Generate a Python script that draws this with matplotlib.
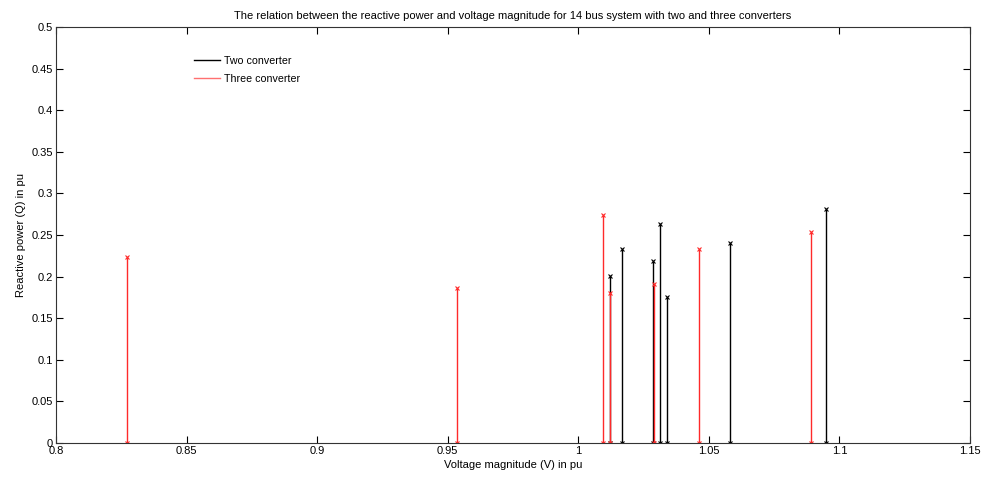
import numpy as np
import matplotlib.pyplot as plt
from matplotlib.lines import Line2D

plt.rcParams['font.family'] = ['Liberation Sans', 'DejaVu Sans']

# voltage magnitude (pu) and reactive power (pu)
v_two = [1.0121, 1.0167, 1.0285, 1.0312, 1.0341, 1.0582, 1.0949]
q_two = [0.201, 0.2335, 0.219, 0.2636, 0.176, 0.240, 0.281]

v_three = [0.8273, 0.9537, 1.0094, 1.0121, 1.0289, 1.0464, 1.0891]
q_three = [0.224, 0.186, 0.274, 0.180, 0.191, 0.233, 0.254]

fig = plt.figure(figsize=(9.86, 4.78), dpi=100)
ax = fig.add_axes([0.0568, 0.0732, 0.927, 0.8703])

for v, q in zip(v_two, q_two):
    ax.plot([v, v], [0, q], '-x', color='black', lw=1.0, ms=3.2, mew=0.8)
for v, q in zip(v_three, q_three):
    ax.plot([v, v], [0, q], '-x', color='#ff2a2a', lw=1.0, ms=3.2, mew=0.8)

ax.set_xlim(0.8, 1.15)
ax.set_ylim(0, 0.5)
ax.set_xticks(np.arange(0.8, 1.1501, 0.05))
ax.set_xticklabels(['0.8', '0.85', '0.9', '0.95', '1', '1.05', '1.1', '1.15'])
ax.set_yticks(np.arange(0, 0.5001, 0.05))
ax.set_yticklabels(['0', '0.05', '0.1', '0.15', '0.2', '0.25', '0.3', '0.35', '0.4', '0.45', '0.5'])
ax.tick_params(direction='in', top=True, right=True, labelsize=8, length=5, width=0.8, pad=2)
for s in ax.spines.values():
    s.set_linewidth(0.8)
    s.set_color('#333333')

ax.set_xlabel('Voltage magnitude (V) in pu', fontsize=8, labelpad=3)
ax.set_ylabel('Reactive power (Q) in pu', fontsize=8, labelpad=4)
ax.set_title('The relation between the reactive power and voltage magnitude for 14 bus system with two and three converters',
             fontsize=8, pad=6)

leg_handles = [Line2D([], [], color='black', lw=1.0), Line2D([], [], color='#ff7070', lw=1.0)]
ax.legend(leg_handles, ['Two converter', 'Three converter'], loc='upper left',
          bbox_to_anchor=(0.14, 0.953), frameon=False, fontsize=7.7,
          handlelength=2.5, handletextpad=0.3, labelspacing=0.75)

fig.savefig('out.png', dpi=100)
